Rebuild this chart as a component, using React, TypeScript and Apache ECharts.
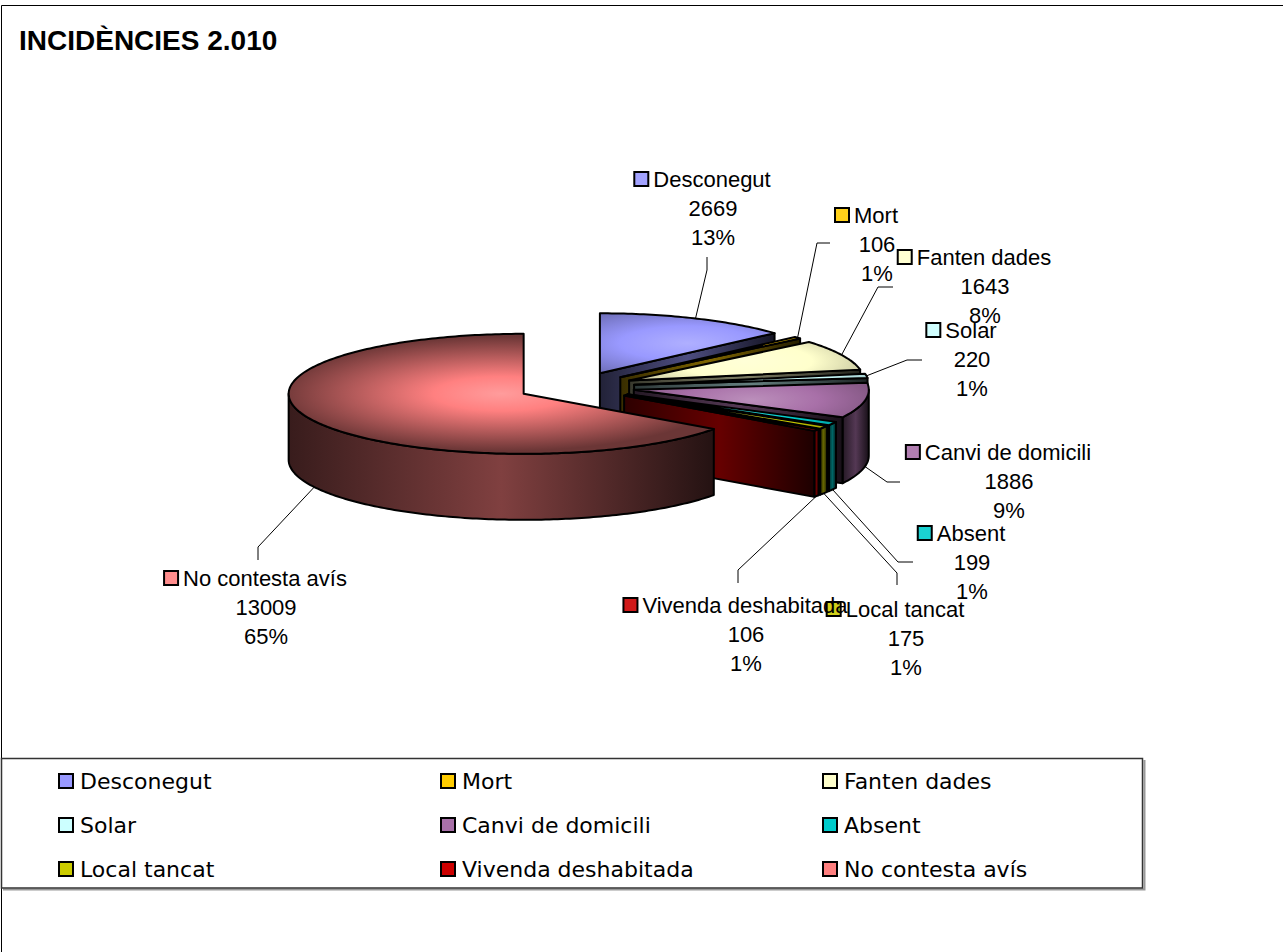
import React, { useEffect, useRef } from 'react';
import * as echarts from 'echarts';

const TITLE = 'INCIDÈNCIES 2.010';
const CATEGORIES = [
  'Desconegut',
  'Mort',
  'Fanten dades',
  'Solar',
  'Canvi de domicili',
  'Absent',
  'Local tancat',
  'Vivenda deshabitada',
  'No contesta avís',
];
const VALUES = [2669, 106, 1643, 220, 1886, 199, 175, 106, 13009];
const COLORS = ['#9999FF', '#FFCC00', '#FFFFCC', '#CCFFFF', '#A870A8', '#00CCCC', '#CCCC00', '#CC0000', '#FF8080'];

// layout of the 3D pie (pixels)
const PIE = { cx: 576, cy: 387, rx: 235, ry: 60, depth: 66, explode: 0.25 };
// label block centre x, first line centre y
const LABEL_POS = [
  [713, 179], [877, 215], [985, 257], [972, 330], [1009, 452],
  [972, 533], [906, 609], [746, 605], [266, 578],
];
// leader line start + elbow (then to slice)
const LEADER_POS = [
  [[707, 257], [707, 270]],
  [[830, 243], [817, 243]],
  [[893, 287], [878, 287]],
  [[922, 360], [907, 360]],
  [[900, 482], [887, 482]],
  [[913, 562], [898, 562]],
  [[897, 585], [897, 573]],
  [[738, 583], [738, 570]],
  [[258, 560], [258, 547]],
];

function shade(hex: string, f: number): string {
  const n = parseInt(hex.slice(1), 16);
  let r = (n >> 16) & 255, g = (n >> 8) & 255, b = n & 255;
  if (f >= 0) {
    r = r + (255 - r) * f; g = g + (255 - g) * f; b = b + (255 - b) * f;
  } else {
    r = r * (1 + f); g = g * (1 + f); b = b * (1 + f);
  }
  return `rgb(${Math.round(r)},${Math.round(g)},${Math.round(b)})`;
}

function makeRenderItem(i: number) {
  const total = VALUES.reduce((s, v) => s + v, 0);
  const before = VALUES.slice(0, i).reduce((s, v) => s + v, 0);
  return (params: any, api: any) => {
    const v = api.value(0) as number;
    const TAU = Math.PI * 2;
    const a0 = (before / total) * TAU;
    const a1 = ((before + v) / total) * TAU;
    const am = (a0 + a1) / 2;
    const { rx, ry, depth, explode } = PIE;
    const cx = PIE.cx + explode * rx * Math.sin(am);
    const cy = PIE.cy - explode * ry * Math.cos(am);
    const pt = (a: number, dy = 0): number[] => [cx + rx * Math.sin(a), cy - ry * Math.cos(a) + dy];
    const arc = (s: number, e: number, dy = 0): number[][] => {
      const n = Math.max(2, Math.ceil((e - s) / (Math.PI / 180)));
      const out: number[][] = [];
      for (let k = 0; k <= n; k++) out.push(pt(s + ((e - s) * k) / n, dy));
      return out;
    };
    const base = COLORS[i];
    const edge = { stroke: '#000', lineWidth: 2, lineJoin: 'round' };
    const wallFill = () =>
      new echarts.graphic.LinearGradient(0, 0, 1, 0, [
        { offset: 0, color: shade(base, -0.78) },
        { offset: 0.5, color: shade(base, -0.5) },
        { offset: 1, color: shade(base, -0.86) },
      ]);
    const children: any[] = [];
    // outer (curved) wall, front half only
    const ws = Math.max(a0, Math.PI / 2);
    const we = Math.min(a1, Math.PI * 1.5);
    if (we > ws) {
      const top = arc(ws, we);
      const pts = top.concat(arc(ws, we, depth).reverse());
      const zMax = Math.max(...top.map((p) => p[1]));
      children.push({
        type: 'polygon', z2: 100 + zMax,
        shape: { points: pts },
        style: { fill: wallFill(), ...edge },
      });
    }
    const radialWall = (a: number) => {
      const r = pt(a);
      return {
        type: 'polygon', z2: 100 + Math.max(cy, r[1]),
        shape: { points: [[cx, cy], r, [r[0], r[1] + depth], [cx, cy + depth]] },
        style: { fill: wallFill(), ...edge },
      };
    };
    if (Math.sin(a1) > 1e-6) children.push(radialWall(a1));
    if (Math.sin(a0) < -1e-6) children.push(radialWall(a0));
    // top face with elliptical gradient
    const face = [[cx, cy]].concat(arc(a0, a1));
    const xs = face.map((p) => p[0]);
    const ys = face.map((p) => p[1]);
    const gx = (Math.min(...xs) + Math.max(...xs)) / 2;
    const gy = (Math.min(...ys) + Math.max(...ys)) / 2;
    const k = rx / ry;
    const faceLocal = face.map((p) => [p[0], cy + (p[1] - cy) * k]);
    children.push({
      type: 'polygon', z2: 1000,
      originX: 0, originY: cy, scaleY: 1 / k,
      shape: { points: faceLocal },
      style: {
        fill: new echarts.graphic.RadialGradient(gx, cy + (gy - cy) * k, 225, [
          { offset: 0, color: shade(base, 0.22) },
          { offset: 0.3, color: base },
          { offset: 1, color: shade(base, -0.58) },
        ], true),
      },
    });
    children.push({
      type: 'polygon', z2: 1001,
      shape: { points: face },
      style: { fill: 'none', ...edge },
    });
    // leader line
    const front = Math.cos(am) < 0;
    const ap = pt(am, front ? depth : 0);
    children.push({
      type: 'polyline', z2: 1500,
      shape: { points: [LEADER_POS[i][0], LEADER_POS[i][1], ap] },
      style: { stroke: '#000', lineWidth: 1, fill: 'none' },
    });
    // label
    const pct = Math.round((v / total) * 100);
    children.push({
      type: 'text', z2: 2000,
      x: LABEL_POS[i][0], y: LABEL_POS[i][1] - 14.5,
      style: {
        text: `{m|}{g|}{n|${CATEGORIES[i]}}{g2|}\n{n|${v}}\n{n|${pct}%}`,
        align: 'center', verticalAlign: 'top',
        rich: {
          m: { width: 12, height: 12, backgroundColor: shade(base, 0.1), borderColor: '#000', borderWidth: 2 },
          g: { width: 6 },
          g2: { width: 20 },
          n: { fontFamily: 'Arial', fontSize: 22, lineHeight: 29, fill: '#000' },
        },
      },
    });
    return { type: 'group', children };
  };
}

export default function App() {
  const ref = useRef<HTMLDivElement>(null);
  useEffect(() => {
    if (!ref.current) return;
    const chart = echarts.init(ref.current, undefined, { renderer: 'svg' });
    chart.setOption({
      animation: false,
      backgroundColor: '#fff',
      title: {
        text: TITLE, left: 19, top: 26, padding: 0,
        textStyle: { fontFamily: 'Arial', fontWeight: 'bold', fontSize: 28, color: '#000' },
      },
      legend: {
        data: CATEGORIES, left: 58, top: 764, width: 1180, orient: 'horizontal',
        icon: 'rect', itemWidth: 14, itemHeight: 14, itemGap: 10, padding: 0,
        selectedMode: false,
        itemStyle: { borderColor: '#000', borderWidth: 2 },
        textStyle: {
          fontFamily: 'DejaVu Sans', fontSize: 22, color: '#000',
          width: 350, height: 34, lineHeight: 34, padding: [0, 0, 0, 2],
        },
      },
      graphic: [
        { type: 'rect', z: -10, silent: true, shape: { x: 1.5, y: 5.5, width: 1400, height: 1100 }, style: { fill: 'none', stroke: '#000', lineWidth: 1 } },
        { type: 'polyline', z: -10, silent: true, shape: { points: [[3, 889.5], [1144.5, 889.5], [1144.5, 760]] }, style: { fill: 'none', stroke: '#999', lineWidth: 2 } },
        { type: 'rect', z: -9, silent: true, shape: { x: 1.5, y: 758.5, width: 1141, height: 129.5 }, style: { fill: 'none', stroke: '#333', lineWidth: 1.5 } },
      ],
      series: CATEGORIES.map((name, i) => ({
        type: 'custom',
        name,
        coordinateSystem: 'none',
        data: [[VALUES[i]]],
        itemStyle: { color: COLORS[i] },
        silent: true,
        renderItem: makeRenderItem(i),
      })),
    });
    return () => chart.dispose();
  }, []);
  return (
    <div style={{ position: 'absolute', left: 0, top: 0, width: 1283, height: 952, background: '#fff' }}>
      <div ref={ref} style={{ width: 1283, height: 952 }} />
    </div>
  );
}
